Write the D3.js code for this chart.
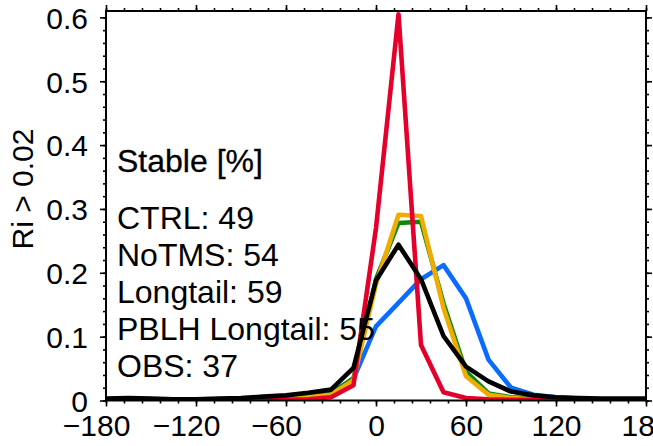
<!DOCTYPE html>
<html><head><meta charset="utf-8">
<script src="https://cdn.jsdelivr.net/npm/d3@7"></script>
<style>
html,body{margin:0;padding:0;background:#fff;}
svg{display:block;}
text{font-family:"Liberation Sans",Arial,Helvetica,sans-serif;fill:#000;}
</style></head>
<body>
<svg id="chart" width="653" height="446"></svg>
<script>
// ---- data ----
const xValues = [-180,-165,-150,-135,-120,-105,-90,-75,-60,-45,-30,-15,0,15,30,45,60,75,90,105,120,135,150,165,180];
const ctrl     = [.002,.002,.002,.001,.001,.002,.002,.003,.004,.007,.012,.034,.116,.153,.190,.212,.160,.064,.020,.009,.005,.003,.002,.002,.002];
const noTMS    = [.001,.001,.001,.001,.001,.001,.001,.001,.001,.002,.005,.024,.270,.605,.087,.013,.004,.002,.001,.001,.001,.001,.001,.001,.001];
const longtail = [.001,.002,.002,.001,.001,.001,.002,.002,.003,.005,.010,.035,.190,.278,.280,.152,.045,.011,.005,.003,.002,.002,.001,.001,.001];
const pblhLong = [.001,.002,.002,.001,.001,.001,.002,.002,.003,.005,.009,.032,.182,.291,.289,.145,.038,.009,.004,.002,.002,.001,.001,.001,.001];
const obs      = [.003,.004,.003,.002,.002,.003,.004,.006,.008,.012,.017,.051,.188,.244,.190,.101,.053,.030,.014,.008,.005,.004,.003,.003,.003];
const seriesNames = ["CTRL","Longtail","PBLH Longtail","NoTMS","OBS"];
const seriesColors = ["#0a6cff","#0a8a0a","#f0ac00","#e4002b","#000000"];
const legendTitle = "Stable [%]";
const legendLines = ["CTRL: 49","NoTMS: 54","Longtail: 59","PBLH Longtail: 55","OBS: 37"];
const yLabel = "Ri > 0.02";
const xTicks = [-180,-120,-60,0,60,120,180];
const yTicks = [0,0.1,0.2,0.3,0.4,0.5,0.6];

// ---- layout ----
const svg = d3.select("#chart");
const L = 106, R = 646, T = 11, B = 400.5;
const x = d3.scaleLinear().domain([-180,180]).range([L,R]);
const y = d3.scaleLinear().domain([0,0.61]).range([B,T]);

const seriesData = [ctrl, longtail, pblhLong, noTMS, obs];

const line = d3.line().x((d,i)=>x(xValues[i])).y(d=>y(d));
svg.append("clipPath").attr("id","clip").append("rect")
  .attr("x",L).attr("y",T-4).attr("width",R-L).attr("height",B-T+4);
const g = svg.append("g").attr("clip-path","url(#clip)");
seriesData.forEach((s,k)=>{
  g.append("path").datum(s).attr("d",line).attr("fill","none")
    .attr("stroke",seriesColors[k]).attr("stroke-width",4.6)
    .attr("stroke-linejoin","round").attr("stroke-linecap","round");
});

// axes
const fmtX = d => d<0 ? "\u2212"+Math.abs(d) : String(d);
const fmtY = d => d===0 ? "0" : d3.format(".1f")(d);
const minorX = d3.range(-180,181,12);
const minorY = d3.range(0,0.6101,0.02);

const axB = d3.axisBottom(x).tickValues(xTicks).tickSize(6).tickPadding(8).tickFormat(fmtX);
const axT = d3.axisTop(x).tickValues(xTicks).tickSize(6).tickFormat("");
const axL = d3.axisLeft(y).tickValues(yTicks).tickSize(6).tickPadding(12).tickFormat(fmtY);
const axR = d3.axisRight(y).tickValues(yTicks).tickSize(6).tickFormat("");
const mB = d3.axisBottom(x).tickValues(minorX).tickSize(3).tickFormat("");
const mT = d3.axisTop(x).tickValues(minorX).tickSize(3).tickFormat("");
const mL = d3.axisLeft(y).tickValues(minorY).tickSize(3).tickFormat("");
const mR = d3.axisRight(y).tickValues(minorY).tickSize(3).tickFormat("");

function put(ax, tr){
  const a = svg.append("g").attr("transform",tr).call(ax);
  a.select(".domain").remove();
  a.selectAll("line").attr("stroke","#000").attr("stroke-width",1.6);
  return a;
}
put(mB,`translate(0,${B})`); put(mT,`translate(0,${T})`);
put(mL,`translate(${L},0)`); put(mR,`translate(${R},0)`);
put(axT,`translate(0,${T})`); put(axR,`translate(${R},0)`);
const ab = put(axB,`translate(0,${B})`);
ab.selectAll("text").attr("font-size",30).attr("font-family","Liberation Sans, Arial, sans-serif")
  .attr("dx",d=>d<0?"-0.33em":0);
const al = put(axL,`translate(${L},0)`);
al.selectAll("text").attr("font-size",30).attr("font-family","Liberation Sans, Arial, sans-serif")
  .attr("dy","0.36em");

svg.append("rect").attr("x",L).attr("y",T).attr("width",R-L).attr("height",B-T)
  .attr("fill","none").attr("stroke","#000").attr("stroke-width",2);

// y label
svg.append("text").attr("transform","translate(33,189) rotate(-90)")
  .attr("text-anchor","middle").attr("font-size",30).text(yLabel);

// legend text
svg.append("text").attr("x",117).attr("y",172).attr("font-size",32)
  .attr("stroke","#000").attr("stroke-width",0.3).text(legendTitle);
legendLines.forEach((t,i)=>{
  svg.append("text").attr("x",117).attr("y",229+i*37).attr("font-size",32).text(t);
});
</script>
</body></html>
